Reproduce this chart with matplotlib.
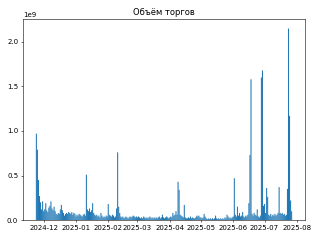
import numpy as np
import pandas as pd
import matplotlib
matplotlib.use("Agg")
import matplotlib.pyplot as plt

# daily trading volume, in units of 1e9, starting 2024-11-24
start_date = "2024-11-24"
nov = [0.97, 0.79, 0.45, 0.27, 0.20, 0.12, 0.21]
dec = [0.10, 0.12, 0.19, 0.11, 0.09, 0.14, 0.16, 0.21, 0.13, 0.11,
       0.15, 0.10, 0.07, 0.06, 0.08, 0.07, 0.12, 0.17, 0.11, 0.08,
       0.05, 0.07, 0.08, 0.07, 0.09, 0.08, 0.07, 0.09, 0.06, 0.08, 0.07]
jan = [0.04, 0.06, 0.05, 0.07, 0.06, 0.05, 0.04, 0.06, 0.07, 0.05,
       0.51, 0.12, 0.10, 0.13, 0.09, 0.11, 0.19, 0.08, 0.06, 0.05,
       0.06, 0.04, 0.05, 0.03, 0.08, 0.05, 0.03, 0.04, 0.03, 0.05, 0.04]
feb = [0.18, 0.06, 0.05, 0.04, 0.06, 0.05, 0.03, 0.04, 0.13, 0.76,
       0.15, 0.08, 0.04, 0.03, 0.04, 0.02, 0.03, 0.04, 0.03, 0.02,
       0.03, 0.04, 0.03, 0.04, 0.05, 0.04, 0.03, 0.04]
mar = [0.03, 0.04, 0.03, 0.02, 0.03, 0.02, 0.04, 0.03, 0.02, 0.03,
       0.02, 0.03, 0.04, 0.02, 0.03, 0.02, 0.03, 0.02, 0.03, 0.02,
       0.03, 0.04, 0.02, 0.03, 0.06, 0.03, 0.02, 0.03, 0.04, 0.03, 0.02]
apr = [0.03, 0.04, 0.03, 0.08, 0.05, 0.06, 0.10, 0.06, 0.43, 0.34,
       0.06, 0.05, 0.04, 0.03, 0.17, 0.03, 0.02, 0.02, 0.03, 0.02,
       0.04, 0.02, 0.03, 0.02, 0.02, 0.03, 0.05, 0.04, 0.05, 0.03]
may = [0.03, 0.02, 0.03, 0.07, 0.04, 0.02, 0.01, 0.02, 0.01, 0.02,
       0.01, 0.02, 0.01, 0.02, 0.05, 0.02, 0.01, 0.02, 0.01, 0.02,
       0.01, 0.02, 0.01, 0.03, 0.02, 0.06, 0.04, 0.02, 0.03, 0.02, 0.03]
jun = [0.04, 0.47, 0.06, 0.04, 0.15, 0.05, 0.08, 0.04, 0.05, 0.09,
       0.04, 0.03, 0.05, 0.04, 0.06, 0.19, 0.73, 1.58, 0.07, 0.05,
       0.08, 0.06, 0.05, 0.12, 0.04, 0.03, 0.05, 1.60, 1.68, 0.16]
jul = [0.18, 0.08, 0.36, 0.26, 0.06, 0.05, 0.07, 0.04, 0.06, 0.05,
       0.07, 0.05, 0.06, 0.08, 0.37, 0.08, 0.07, 0.08, 0.06, 0.07,
       0.05, 0.06, 0.35, 2.15, 1.17, 0.22, 0.10]

volume = np.array(nov + dec + jan + feb + mar + apr + may + jun + jul) * 1e9
dates = pd.date_range(start_date, periods=len(volume), freq="D")

fig, ax = plt.subplots(figsize=(6.4, 4.8), dpi=50)
# no pixel snapping: thin single bars come out lighter, like the original
ax.bar(dates, volume, width=1.0, color="tab:blue", snap=False, linewidth=0)
ax.set_title("Объём торгов")

fig.subplots_adjust(left=0.072, right=0.953, top=0.921, bottom=0.083)
fig.savefig("out.png", dpi=50)
